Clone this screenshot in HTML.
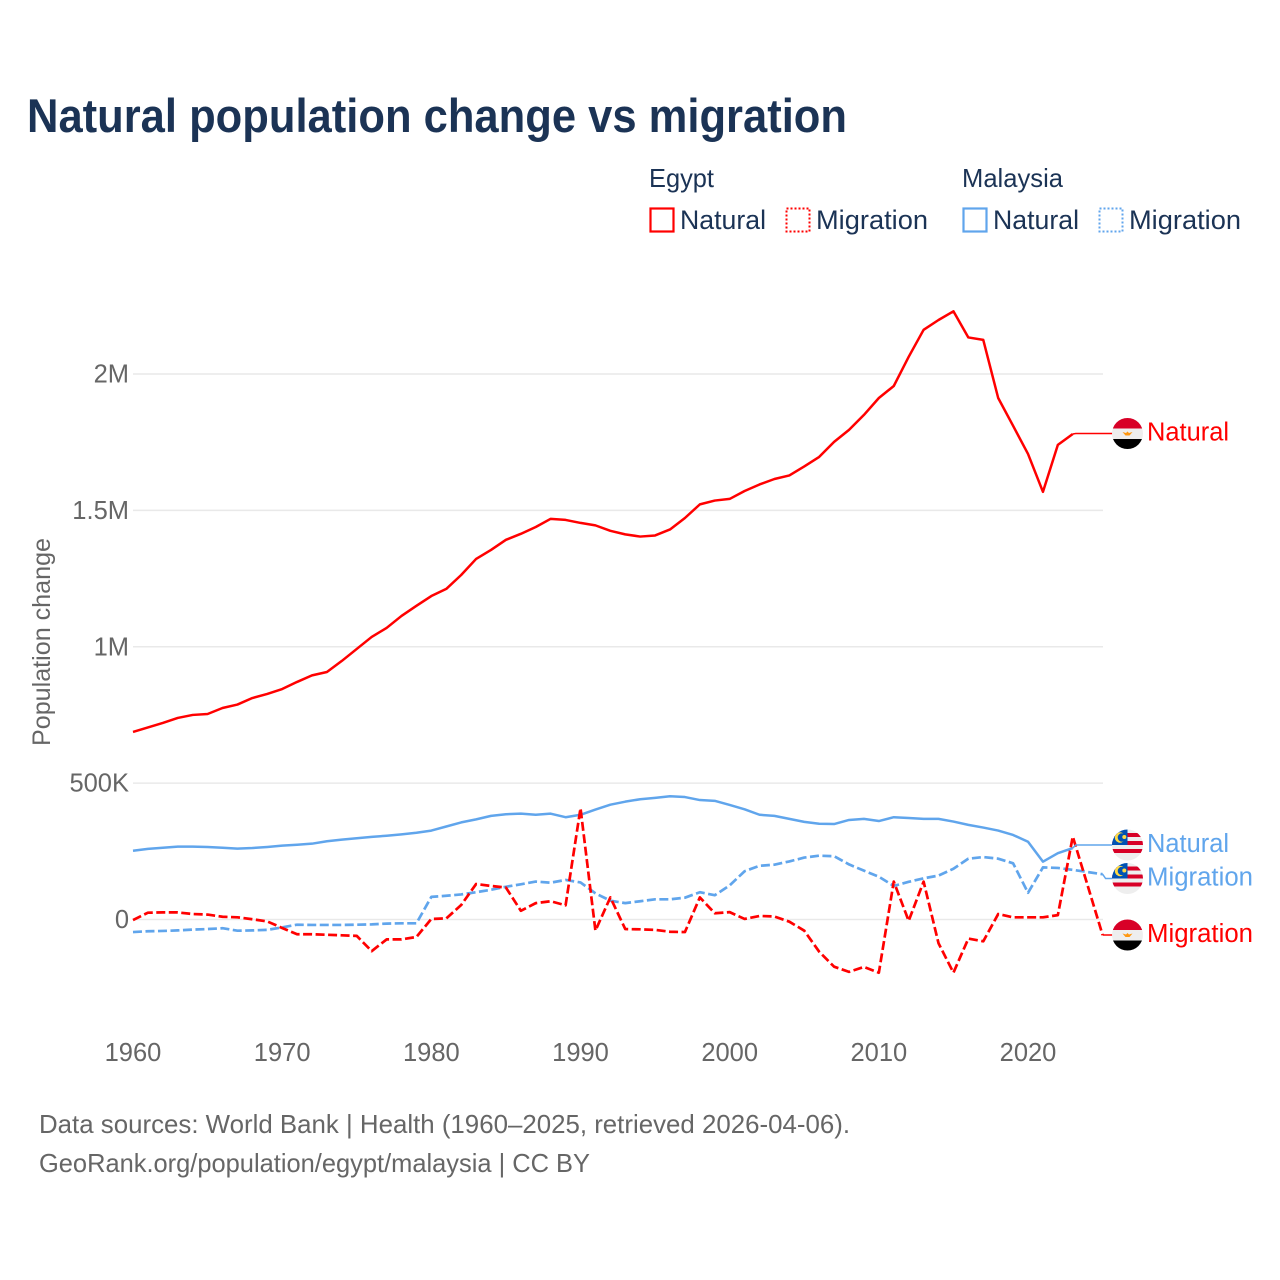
<!DOCTYPE html>
<html lang="en">
<head>
<meta charset="utf-8">
<title>Natural population change vs migration</title>
<style>
  html, body { margin: 0; padding: 0; background: #fff; }
  svg { display: block; font-family: "Liberation Sans", sans-serif; }
  .dark { fill: #1b3355; }
  .grey { fill: #666; }
</style>
</head>
<body>
<svg id="chart" xmlns="http://www.w3.org/2000/svg" width="1280" height="1280" viewBox="0 0 1280 1280">
  <defs>
    <clipPath id="flag-clip"><circle cx="0" cy="0" r="15.5"/></clipPath>
    <g id="flag-egypt" clip-path="url(#flag-clip)">
      <rect x="-16" y="-16" width="32" height="11" fill="#d80027"/>
      <rect x="-16" y="-5" width="32" height="10.5" fill="#eeeeee"/>
      <rect x="-16" y="5.5" width="32" height="11" fill="#000000"/>
      <path d="M-5 -1.5 L-1.5 -0.5 L0 -2 L1.5 -0.5 L5 -1.5 L2 2 L-2 2 Z" fill="#ff9811"/>
    </g>
    <g id="flag-malaysia" clip-path="url(#flag-clip)">
      <rect x="-16" y="-16" width="32" height="32" fill="#eeeeee"/>
      <rect x="-16" y="-12" width="32" height="4" fill="#d80027"/>
      <rect x="-16" y="-4" width="32" height="4" fill="#d80027"/>
      <rect x="-16" y="4" width="32" height="4" fill="#d80027"/>
      <rect x="-16" y="-16" width="16" height="16" fill="#0052b4"/>
      <circle cx="-7.5" cy="-7.5" r="5.2" fill="#ffda44"/>
      <circle cx="-5.6" cy="-7.5" r="4.2" fill="#0052b4"/>
      <circle cx="-3.2" cy="-8" r="2" fill="#ffda44"/>
    </g>
  </defs>

  <text class="dark" x="27" y="132" font-size="47" font-weight="700" textLength="820" lengthAdjust="spacingAndGlyphs">Natural population change vs migration</text>

  <g>
    <text class="dark" x="649" y="187" font-size="26" textLength="65" lengthAdjust="spacingAndGlyphs">Egypt</text>
    <text class="dark" x="962" y="187" font-size="26" textLength="101" lengthAdjust="spacingAndGlyphs">Malaysia</text>

    <rect x="650.5" y="208.5" width="23" height="23" fill="none" stroke="#ff0000" stroke-width="2.2"/>
    <text class="dark" x="680" y="229" font-size="27" textLength="86" lengthAdjust="spacingAndGlyphs">Natural</text>
    <rect x="786.5" y="208.5" width="23" height="23" fill="none" stroke="#ff0000" stroke-width="2" stroke-dasharray="2 2"/>
    <text class="dark" x="816" y="229" font-size="27" textLength="112" lengthAdjust="spacingAndGlyphs">Migration</text>

    <rect x="963.5" y="208.5" width="23" height="23" fill="none" stroke="#60a5ec" stroke-width="2.2"/>
    <text class="dark" x="993" y="229" font-size="27" textLength="86" lengthAdjust="spacingAndGlyphs">Natural</text>
    <rect x="1099.5" y="208.5" width="23" height="23" fill="none" stroke="#60a5ec" stroke-width="2" stroke-dasharray="2 2"/>
    <text class="dark" x="1129" y="229" font-size="27" textLength="112" lengthAdjust="spacingAndGlyphs">Migration</text>
  </g>

  <g id="grid"></g>
  <g id="y-ticks"></g>
  <g id="x-ticks"></g>
  <text class="grey" transform="translate(50,746) rotate(-90)" x="0" y="0" font-size="25" textLength="208" lengthAdjust="spacingAndGlyphs">Population change</text>
  <g id="series"></g>
  <g id="end-labels"></g>

  <text class="grey" x="39" y="1133" font-size="26" textLength="811" lengthAdjust="spacingAndGlyphs">Data sources: World Bank | Health (1960–2025, retrieved 2026-04-06).</text>
  <text class="grey" x="39" y="1172" font-size="26" textLength="551" lengthAdjust="spacingAndGlyphs">GeoRank.org/population/egypt/malaysia | CC BY</text>
</svg>

<script>
// Values in thousands of people, one per year from startYear.
const startYear = 1960;
const xTickYears = [1960, 1970, 1980, 1990, 2000, 2010, 2020];
const yTickValues = [0, 500, 1000, 1500, 2000];
const yTickLabels = ['0', '500K', '1M', '1.5M', '2M'];

const egyptNatural = [687.5,704,720.5,739,750,753.5,775.5,788,812,827,
  845,871,895,907.5,948,992,1036,1069,1113,1150,
  1186,1212,1263,1322,1355,1392,1414,1439,1469,1465,
  1454,1445,1425,1412,1404,1408,1430,1472,1522,1536,
  1542,1571,1595,1615,1628,1661,1696,1751,1795,1850,
  1912,1956,2063,2162,2198,2230,2134,2125,1912,1810,
  1707,1568,1740,1780];

const egyptMigration = [-2,25,26,26,20,18,10,8,1,-7,
  -31,-54,-54,-56,-58,-60,-116,-73,-73,-64,
  2,4,53,130,123,117,32,60,67,52,
  408,-41,81,-35,-36,-38,-45,-46,81,23,
  27,2,13,11,-8,-41,-118,-173,-192,-174,
  -195,139,-5,139,-87,-195,-70,-80,20,8,
  8,8,16,304,124,-57];

const malaysiaNatural = [252,259,263,267,267,266,263,260,262,266,
  271,274,278,287,293,298,303,307,312,318,
  326,341,356,367,380,386,388,384,388,375,
  384,403,421,432,441,446,452,449,438,435,
  420,404,384,380,369,358,351,350,365,369,
  361,375,372,369,369,359,347,337,326,310,
  285,212,243,262];

const malaysiaMigration = [-46,-43,-42,-40,-37,-35,-32,-41,-40,-38,
  -29,-19,-20,-20,-20,-19,-18,-15,-14,-14,
  83,87,92,100,109,120,129,139,135,145,
  136,96,69,60,67,74,74,80,100,89,
  125,177,197,201,213,227,234,232,202,179,
  157,123,138,151,161,186,223,229,223,206,
  98,191,189,182,174,166];

const NS = 'http://www.w3.org/2000/svg';
const RED = '#ff0000';
const BLUE = '#60a5ec';
const plotLeft = 133;
const plotRight = 1103;
const flagX = 1127.5;
const labelX = 1147;

function xScale(year) { return plotLeft + (year - 1960) * 14.917; }
function yScale(value) { return 919.5 - value * 0.27275; }

function make(tag, attrs, parent) {
  const el = document.createElementNS(NS, tag);
  for (const k in attrs) el.setAttribute(k, attrs[k]);
  parent.appendChild(el);
  return el;
}

const gridGroup = document.getElementById('grid');
const yTickGroup = document.getElementById('y-ticks');
const xTickGroup = document.getElementById('x-ticks');
const seriesGroup = document.getElementById('series');
const labelGroup = document.getElementById('end-labels');

yTickValues.forEach(function (v, i) {
  const line = make('line', { x1: plotLeft, x2: plotRight, y1: yScale(v), y2: yScale(v), stroke: '#e9e9e9', 'stroke-width': 1.5 }, gridGroup);
  
  
  const t = make('text', { x: 129, y: yScale(v) + 8.5, 'text-anchor': 'end', 'font-size': 25.5, class: 'grey' }, yTickGroup);
  
  
  t.textContent = yTickLabels[i];
});

xTickYears.forEach(function (yr) {
  const t = make('text', { x: xScale(yr), y: 1061, 'text-anchor': 'middle', 'font-size': 25.5, class: 'grey' }, xTickGroup);
  
  
  t.textContent = yr;
});

function seriesPoints(values) {
  return values.map(function (v, i) {
    return xScale(startYear + i).toFixed(2) + ',' + yScale(v).toFixed(2);
  }).join(' ');
}

function drawSeries(values, color, dashed, name) {
  const attrs = { points: seriesPoints(values), fill: 'none', stroke: color, 'stroke-width': dashed ? 2.7 : 2.5, 'stroke-linejoin': 'round' };
  if (dashed) attrs['stroke-dasharray'] = '9 3.5';
  const line = make('polyline', attrs, seriesGroup);
  
  
}

drawSeries(malaysiaMigration, BLUE, true, 'malaysia-migration-line');
drawSeries(malaysiaNatural, BLUE, false, 'malaysia-natural-line');
drawSeries(egyptMigration, RED, true, 'egypt-migration-line');
drawSeries(egyptNatural, RED, false, 'egypt-natural-line');

function endLabel(values, color, flag, text, labelY, textWidth, name) {
  const lastX = xScale(startYear + values.length - 1);
  const lastY = yScale(values[values.length - 1]);
  const connector = make('polyline', {
    points: lastX + ',' + lastY + ' ' + (lastX + 3) + ',' + labelY + ' ' + (flagX - 14) + ',' + labelY,
    fill: 'none', stroke: color, 'stroke-width': 1.5
  }, labelGroup);
  
  
  const badge = make('use', { href: '#' + flag, transform: 'translate(' + flagX + ',' + labelY + ')' }, labelGroup);
  
  
  const t = make('text', { x: labelX, y: labelY + 7, fill: color, 'font-size': 25.5, textLength: textWidth, lengthAdjust: 'spacingAndGlyphs' }, labelGroup);
  
  
  t.textContent = text;
}

endLabel(egyptNatural, RED, 'flag-egypt', 'Natural', 433.5, 82, 'egypt-natural');
endLabel(malaysiaNatural, BLUE, 'flag-malaysia', 'Natural', 845, 82, 'malaysia-natural');
endLabel(malaysiaMigration, BLUE, 'flag-malaysia', 'Migration', 878.5, 106, 'malaysia-migration');
endLabel(egyptMigration, RED, 'flag-egypt', 'Migration', 935, 106, 'egypt-migration');
</script>
</body>
</html>
